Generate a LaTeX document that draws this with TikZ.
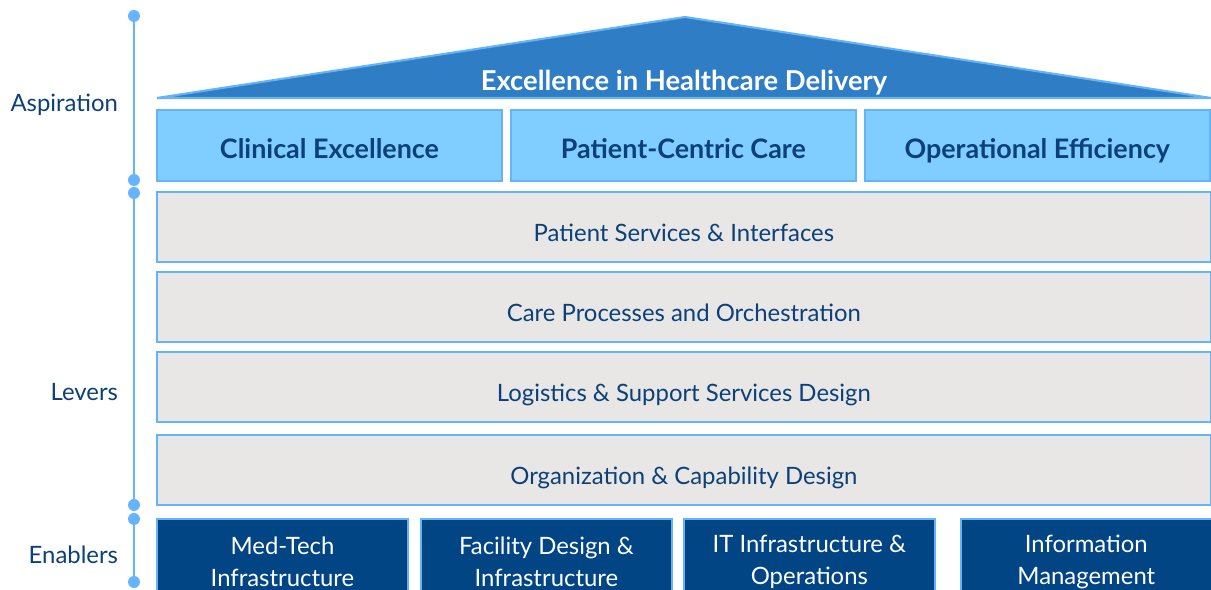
\documentclass[tikz,border=0pt]{standalone}
\usepackage{fontspec}
\setmainfont{Lato}
\usepackage{tikz}
\usetikzlibrary{positioning}
\definecolor{navytext}{HTML}{0B4079}
\definecolor{roofblue}{HTML}{2F7DC4}
\definecolor{edgeblue}{HTML}{66B4F8}
\definecolor{pillarblue}{HTML}{80CEFF}
\definecolor{levergrey}{HTML}{E8E7E6}
\definecolor{basenavy}{HTML}{024585}
\definecolor{railblue}{HTML}{66B3FF}

\begin{document}
\begin{tikzpicture}[
    x=0.02cm, y=-0.02cm,
    node distance=0.2cm,
    every node/.style={outer sep=0pt},
    pillar/.style={rectangle, draw=edgeblue, line width=1pt, fill=pillarblue, text=navytext, font=\fontsize{15.3}{18}\selectfont\bfseries, text height=1.52em, text depth=0pt, minimum width=6.9cm, minimum height=1.42cm, inner sep=0pt},
    lever/.style={rectangle, draw=edgeblue, line width=1pt, fill=levergrey, text=navytext, font=\fontsize{13.6}{16}\selectfont, text height=1.66em, text depth=0pt, minimum width=21.08cm, minimum height=1.4cm, inner sep=0pt},
    enabler/.style={rectangle, draw=edgeblue, line width=1pt, fill=basenavy, text=white, font=\fontsize{13.6}{18}\selectfont, align=center, minimum width=5.02cm, minimum height=1.72cm, inner sep=0pt},
    dot/.style={circle, fill=railblue, inner sep=0pt, minimum size=0.24cm},
    tag/.style={anchor=base east, text=navytext, font=\fontsize{13.6}{16}\selectfont, inner sep=0pt},
    rail/.style={draw=railblue, line width=1.3pt}
]
\useasboundingbox (0,0) rectangle (1211,590);
\clip (0,0) rectangle (1211,590);

% --- ROOF ---
\coordinate (eaveL) at (157,98);
\coordinate (ridge) at (685,17);
\coordinate (eaveR) at (1211,98);
\filldraw [fill=roofblue, draw=edgeblue, line width=1.2pt] (eaveL) -- (ridge) -- (eaveR) -- cycle;
\node (roof) at (684,83) [text=white, font=\fontsize{15.6}{18}\selectfont\bfseries] {Excellence in Healthcare Delivery};

% --- PILLARS ---
\node (clinical) [pillar, anchor=north west] at (157,110) {Clinical Excellence};
\node (patient)  [pillar, right=0.18cm of clinical] {Patient-Centric Care};
\node (opeff)    [pillar, right=0.18cm of patient] {Operational Efficiency};

% --- LEVERS ---
\node (services) [lever, anchor=north west] at (157,192) {Patient Services \& Interfaces};
\node (care)     [lever, below=of services] {Care Processes and Orchestration};
\node (logistic) [lever, below=of care] {Logistics \& Support Services Design};
\node (orga)     [lever, below=0.26cm of logistic] {Organization \& Capability Design};

% --- ENABLERS ---
\node (medtech)  [enabler, anchor=north west] at (157,519) {Med-Tech\\Infrastructure};
\node (facility) [enabler, right=0.26cm of medtech] {Facility Design \&\\Infrastructure};
\node (itinfra)  [enabler, right=0.24cm of facility] {IT Infrastructure \&\\Operations};
\node (infomgmt) [enabler, right=0.52cm of itinfra] {Information\\Management};

% --- SIDE RAIL ---
\node (d1) [dot] at (134,16) {};
\node (d2) [dot] at (134,180) {};
\node (d3) [dot] at (134,193) {};
\node (d4) [dot] at (134,505) {};
\node (d5) [dot] at (134,519) {};
\node (d6) [dot] at (134,582) {};
\draw [rail] (d1) -- (d2);
\draw [rail] (d3) -- (d4);
\draw [rail] (d5) -- (d6);

\node (aspiration) [tag] at (118,112) {Aspiration};
\node (levers)     [tag] at (118,401) {Levers};
\node (enablers)   [tag] at (118,564) {Enablers};

\end{tikzpicture}
\end{document}
